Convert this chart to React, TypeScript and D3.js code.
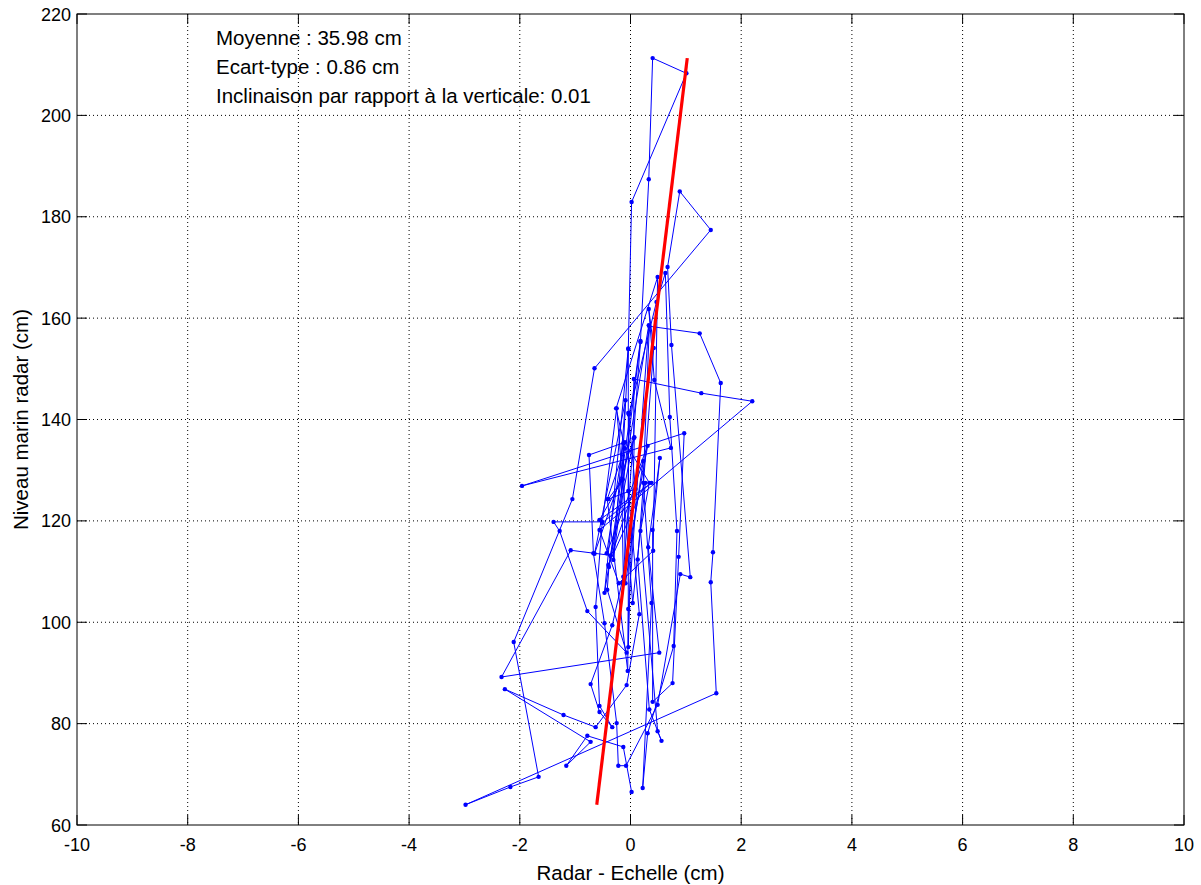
import React from "react";
import * as d3 from "d3";

// Radar minus tide-staff difference (cm), in acquisition order
const radarMinusScale: number[] = [
  0.02, -0.13, -0.78, -1.16, -0.72, -2.27, -1.21, -0.63, -0.07, 0.16,
  -0.04, -0.03, 0.47, 0.63, 0.71, 0.84, 0.78, 0.31, 0.22, 0.38,
  0.23, 0.34, 1.25, 1.63, 1.49, 1.45, 1.55, -2.98, -2.17, -1.66,
  -2.11, -1.05, -0.65, 1.45, 0.89, 0.67, 0.74, 1.08, 0.9, 0.49,
  -0.08, -0.22, -0.25, -0.47, -0.67, -0.75, -0.1, 0.34, 0.18, 0.49,
  0.56, 0.34, 0.13, 0.42, 0.33, 0.43, 0.73, -1.96, 0.97, 0.87,
  0.76, 0.4, 0.4, 0.53, 0.32, 0.52, -2.33, -1.08, -0.36, 0.18,
  0.33, 0.4, 1.01, 0.02, -0.04, -0.16, -0.13, -0.33, -0.72, -0.56,
  -0.33, -0.56, -0.63, -0.51, -1.39, -1.28, -0.78, -0.07, -0.42, -0.39,
  0.06, 0.06, 1.28, 2.2, -0.56, -0.21, 0.41, 0.49, -0.26, -0.1,
  -0.42, -0.05, -0.04, 0.33, -0.47, -0.04, -0.04, 0.07, -0.65, -0.09,
  -0.31, 0.18, -0.14, 0.31, -0.43, -0.13, -0.09, 0.23, -0.4, 0.27,
  0.04, -0.25, -0.51, 0.38, -0.56, -0.14, -0.4, 0.09, -0.04,
];

// Radar sea level (cm), same order
const radarLevel: number[] = [
  66.5, 75.4, 77.6, 71.7, 76.4, 86.8, 81.7, 79.3, 87.6, 101.6,
  125.9, 141.0, 163.2, 168.9, 140.5, 118.0, 95.3, 78.1, 67.3, 103.8,
  127.5, 158.4, 157.0, 147.2, 113.8, 107.9, 86.0, 64.0, 67.5, 69.5,
  96.1, 124.3, 150.1, 177.4, 185.0, 170.1, 154.7, 108.9, 109.5, 83.7,
  71.7, 71.7, 80.1, 99.8, 113.6, 133.0, 135.5, 127.5, 118.0, 78.5,
  76.6, 82.8, 112.4, 154.1, 161.8, 147.8, 134.4, 126.9, 137.3, 112.9,
  88.0, 84.3, 118.2, 132.4, 114.8, 94.0, 89.2, 114.2, 113.2, 155.5,
  187.4, 211.3, 208.3, 182.9, 153.9, 128.0, 109.0, 99.4, 87.8, 82.3,
  79.3, 83.5, 103.0, 119.8, 119.8, 118.0, 102.2, 94.0, 106.4, 110.9,
  136.3, 148.0, 145.2, 143.6, 118.2, 107.7, 114.1, 168.1, 142.2, 134.3,
  124.3, 90.4, 102.6, 158.6, 105.8, 154.0, 95.1, 136.5, 113.5, 143.8,
  112.3, 155.3, 107.9, 134.8, 113.6, 135.3, 107.7, 131.8, 111.3, 127.5,
  103.8, 142.2, 119.6, 127.5, 120.2, 128.2, 124.3, 126.3, 141.3,
];

const xTicks: number[] = [-10, -8, -6, -4, -2, 0, 2, 4, 6, 8, 10];
const yTicks: number[] = [60, 80, 100, 120, 140, 160, 180, 200, 220];

// Summary statistics and the fitted trend (difference vs level)
const meanOffset = 35.98;
const stdDev = 0.86;
const fitSlope = 0.0111;
const fitIntercept = -1.32;

const W = 1201;
const H = 885;
const M = { left: 77, right: 1184, top: 14, bottom: 825 };
const FONT = "'Liberation Sans', Arial, Helvetica, sans-serif";

export default function App() {
  const x = d3.scaleLinear().domain([-10, 10]).range([M.left, M.right]);
  const y = d3.scaleLinear().domain([60, 220]).range([M.bottom, M.top]);

  const pts = radarMinusScale.map((v, i) => [v, radarLevel[i]] as [number, number]);
  const line = d3
    .line<[number, number]>()
    .x((d) => x(d[0]))
    .y((d) => y(d[1]));
  const path = line(pts) as string;

  const yMin = d3.min(radarLevel) as number;
  const yMax = d3.max(radarLevel) as number;
  const fitPts: [number, number][] = [
    [fitIntercept + fitSlope * yMin, yMin],
    [fitIntercept + fitSlope * yMax, yMax],
  ];
  const fitPath = line(fitPts) as string;

  const tickLen = 10;

  return (
    <svg
      width={W}
      height={H}
      style={{ position: "absolute", left: 0, top: 0, background: "#fff" }}
      fontFamily={FONT}
    >
      <rect x={0} y={0} width={W} height={H} fill="#fff" />
      {/* dotted grid */}
      {xTicks.slice(1, -1).map((t) => (
        <line key={"gx" + t} x1={x(t)} x2={x(t)} y1={M.top} y2={M.bottom}
          stroke="#000" strokeWidth={1} strokeDasharray="1,3" />
      ))}
      {yTicks.slice(1, -1).map((t) => (
        <line key={"gy" + t} x1={M.left} x2={M.right} y1={y(t)} y2={y(t)}
          stroke="#000" strokeWidth={1} strokeDasharray="1,3" />
      ))}

      {/* data trace */}
      <path d={path} fill="none" stroke="#0000ff" strokeWidth={1} strokeLinejoin="round" />
      {pts.map((d, i) => (
        <circle key={"p" + i} cx={x(d[0])} cy={y(d[1])} r={2.2} fill="#0000ff" />
      ))}

      {/* fitted trend */}
      <path d={fitPath} fill="none" stroke="#ff0000" strokeWidth={3.2} />

      {/* frame */}
      <rect x={M.left} y={M.top} width={M.right - M.left} height={M.bottom - M.top}
        fill="none" stroke="#000" strokeWidth={1} />
      {xTicks.map((t) => (
        <g key={"tx" + t}>
          <line x1={x(t)} x2={x(t)} y1={M.bottom} y2={M.bottom - tickLen} stroke="#000" />
          <line x1={x(t)} x2={x(t)} y1={M.top} y2={M.top + tickLen} stroke="#000" />
          <text x={x(t)} y={M.bottom + 26} textAnchor="middle" fontSize={18} fill="#000">
            {t}
          </text>
        </g>
      ))}
      {yTicks.map((t) => (
        <g key={"ty" + t}>
          <line x1={M.left} x2={M.left + tickLen} y1={y(t)} y2={y(t)} stroke="#000" />
          <line x1={M.right} x2={M.right - tickLen} y1={y(t)} y2={y(t)} stroke="#000" />
          <text x={M.left - 6} y={y(t) + 6.5} textAnchor="end" fontSize={18} fill="#000">
            {t}
          </text>
        </g>
      ))}

      {/* axis titles */}
      <text x={(M.left + M.right) / 2} y={880} textAnchor="middle" fontSize={20.5} fill="#000">
        Radar - Echelle (cm)
      </text>
      <text transform={`translate(28, ${(M.top + M.bottom) / 2}) rotate(-90)`}
        textAnchor="middle" fontSize={20.5} fill="#000">
        Niveau marin radar (cm)
      </text>

      {/* statistics */}
      <g fontSize={20.5} fill="#000">
        <text x={216} y={45}>{`Moyenne : ${meanOffset.toFixed(2)} cm`}</text>
        <text x={216} y={74}>{`Ecart-type : ${stdDev.toFixed(2)} cm`}</text>
        <text x={216} y={103}>{`Inclinaison par rapport à la verticale: ${fitSlope.toFixed(2)}`}</text>
      </g>
    </svg>
  );
}
